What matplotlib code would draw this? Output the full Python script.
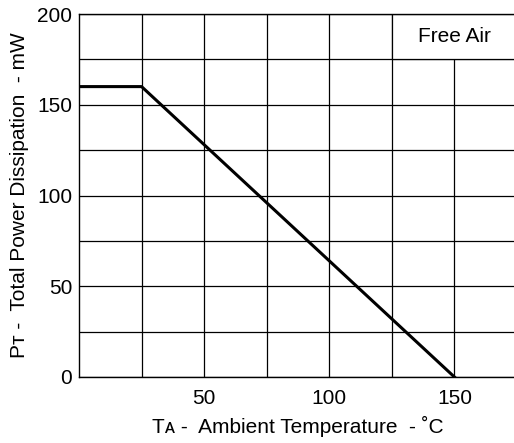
import matplotlib
matplotlib.use("Agg")
import matplotlib.pyplot as plt
from matplotlib.patches import Rectangle

plt.rcParams['font.family'] = ['Liberation Sans', 'DejaVu Sans']

# Data
temperature = [0, 25, 150]
power = [160, 160, 0]
x_major = [50, 100, 150]
x_minor = [25, 75, 125]
y_ticks = [0, 50, 100, 150, 200]
y_minor = [25, 75, 125, 175]
legend_text = "Free Air"
x_label = "Tᴀ -  Ambient Temperature  - ˚C"
y_label = "Pᴛ -  Total Power Dissipation  - mW"

fs = 15

fig = plt.figure(figsize=(5.14, 4.43), dpi=100)
ax = fig.add_axes([79/514, 66/443, 438/514, 363/443])
ax.set_xlim(0, 175)
ax.set_ylim(0, 200)

ax.set_xticks(x_major)
ax.set_xticks(x_minor, minor=True)
ax.set_yticks(y_ticks)
ax.set_yticks(y_minor, minor=True)
ax.tick_params(which='both', length=0, labelsize=fs)
ax.tick_params(axis='x', pad=9)
ax.tick_params(axis='y', pad=5)
ax.grid(True, which='both', color='black', linewidth=0.9, zorder=1)
ax.set_axisbelow(True)
for s in ax.spines.values():
    s.set_linewidth(1.0)
ax.spines['right'].set_visible(False)

ax.plot(temperature, power, color='black', linewidth=2.2, zorder=3)

ax.add_patch(Rectangle((125, 175), 60, 25, facecolor='white', edgecolor='black',
                       linewidth=0.9, zorder=2, clip_on=True))
ax.text(150, 187.5, legend_text, ha='center', va='center', fontsize=fs, zorder=4)

ax.set_xlabel(x_label, fontsize=fs, labelpad=5)
ax.set_ylabel(y_label, fontsize=fs, labelpad=6)

fig.savefig("out.png", dpi=100)
